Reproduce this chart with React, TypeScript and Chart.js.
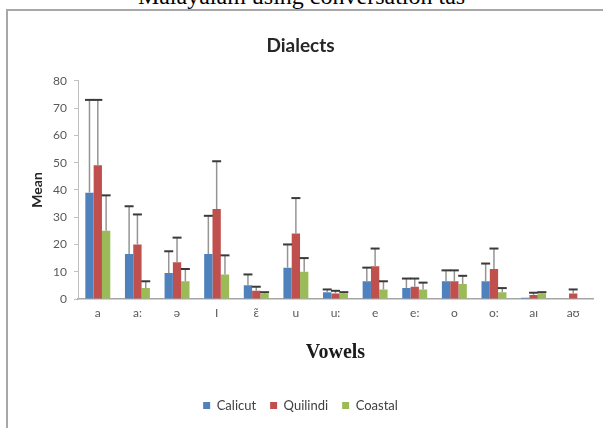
import React, { useEffect, useRef } from "react";
import { Chart, registerables } from "chart.js";

Chart.register(...registerables);

const vowels = ["a", "a:", "ə", "I", "ɛ̃", "u", "u:", "e", "e:", "o", "o:", "aɪ", "aʊ"];
const calicutMean = [39, 16.5, 9.5, 16.5, 5, 11.5, 2.5, 6.5, 4, 6.5, 6.5, 0.5, 0];
const calicutErr = [34, 17.5, 8, 14, 4, 8.5, 1, 5, 3.5, 4, 6.5, 0, 0];
const quilindiMean = [49, 20, 13.5, 33, 3, 24, 2, 12, 4.5, 6.5, 11, 1.5, 2];
const quilindiErr = [24, 11, 9, 17.5, 1.5, 13, 1, 6.5, 3, 4, 7.5, 0.8, 1.5];
const coastalMean = [25, 4, 6.5, 9, 2, 10, 2, 3.5, 3.5, 5.5, 2.5, 2, 0];
const coastalErr = [13, 2.5, 4.5, 7, 0.5, 5, 0.5, 3, 2.5, 3, 1.5, 0.5, 0];
const yTicks = [0, 10, 20, 30, 40, 50, 60, 70, 80];

const errorBarPlugin = {
  id: "errorBars",
  afterDatasetsDraw(chart: any) {
    const ctx = chart.ctx;
    const yScale = chart.scales.y;
    chart.data.datasets.forEach((ds: any, i: number) => {
      const meta = chart.getDatasetMeta(i);
      const errs: number[] = ds.errors || [];
      meta.data.forEach((el: any, j: number) => {
        const err = errs[j];
        if (!err) return;
        const v = ds.data[j];
        const x = el.x;
        const yBar = el.y;
        const yTop = yScale.getPixelForValue(v + err);
        ctx.save();
        ctx.strokeStyle = "#959595";
        ctx.lineWidth = 1.5;
        ctx.beginPath();
        ctx.moveTo(x, yBar);
        ctx.lineTo(x, yTop);
        ctx.stroke();
        ctx.strokeStyle = "#3a3a3a";
        ctx.lineWidth = 2;
        ctx.beginPath();
        ctx.moveTo(x - 4.5, yTop);
        ctx.lineTo(x + 4.5, yTop);
        ctx.stroke();
        ctx.restore();
      });
    });
  },
};

export default function App() {
  const ref = useRef<HTMLCanvasElement | null>(null);
  useEffect(() => {
    if (!ref.current) return;
    const chart = new Chart(ref.current, {
      type: "bar",
      data: {
        labels: vowels,
        datasets: [
          { label: "Calicut", data: calicutMean, errors: calicutErr, backgroundColor: "#4F81BD" } as any,
          { label: "Quilindi", data: quilindiMean, errors: quilindiErr, backgroundColor: "#C0504D" } as any,
          { label: "Coastal", data: coastalMean, errors: coastalErr, backgroundColor: "#9BBB59" } as any,
        ],
      },
      options: {
        animation: false,
        responsive: false,
        maintainAspectRatio: false,
        layout: { padding: { left: 0, right: 10, top: 0, bottom: 6 } },
        datasets: { bar: { categoryPercentage: 0.63, barPercentage: 1 } },
        plugins: {
          title: {
            display: true,
            text: "Dialects",
            color: "#262626",
            font: { family: "Lato", size: 19, weight: "bold" },
            padding: { top: 23, bottom: 24 },
          },
          legend: {
            position: "bottom",
            labels: {
              color: "#404040",
              font: { family: "Lato", size: 13 },
              boxWidth: 7,
              boxHeight: 7,
              padding: 14,
            },
          },
          tooltip: { enabled: false },
        },
        scales: {
          x: {
            grid: { display: false, drawTicks: false },
            border: { display: true, color: "#a6a6a6", width: 1.5 },
            ticks: { color: "#595959", font: { family: "Lato", size: 12 }, padding: 7, maxRotation: 0 },
            title: {
              display: true,
              text: "Vowels",
              color: "#1a1a1a",
              font: { family: "Liberation Serif", size: 20, weight: "bold" },
              padding: { top: 0, bottom: 20 },
            },
            afterFit(scale: any) {
              scale.height = 86;
            },
          },
          y: {
            min: 0,
            max: 80,
            afterBuildTicks(scale: any) {
              scale.ticks = yTicks.map((v) => ({ value: v }));
            },
            grid: { display: true, drawOnChartArea: false, drawTicks: true, tickLength: 4, color: "#bfbfbf" },
            border: { display: true, color: "#bfbfbf" },
            ticks: { color: "#595959", font: { family: "Lato", size: 12 }, padding: 7 },
            title: {
              display: true,
              text: "Mean",
              color: "#262626",
              font: { family: "Lato", size: 14, weight: "bold" },
              padding: { top: 21, bottom: 0 },
            },
            afterFit(scale: any) {
              scale.width = 70;
            },
          },
        },
      },
      plugins: [errorBarPlugin],
    } as any);
    return () => chart.destroy();
  }, []);

  return (
    <div
      style={{
        position: "fixed",
        left: 0,
        top: 0,
        width: 603,
        height: 428,
        background: "#ffffff",
        overflow: "hidden",
      }}
    >
      <div
        style={{
          position: "absolute",
          left: 0,
          top: -17,
          width: 603,
          textAlign: "center",
          fontFamily: "Liberation Serif",
          fontSize: 24,
          color: "#000",
          lineHeight: "26px",
          whiteSpace: "nowrap",
        }}
      >
        Malayalam using conversation tas
      </div>
      <div
        style={{
          position: "absolute",
          left: 6,
          top: 9,
          width: 620,
          height: 440,
          borderLeft: "2px solid #a8a8a8",
          borderTop: "2px solid #a8a8a8",
          background: "#ffffff",
        }}
      >
        <canvas ref={ref} width={595} height={417} style={{ display: "block", width: 595, height: 417 }} />
      </div>
    </div>
  );
}
